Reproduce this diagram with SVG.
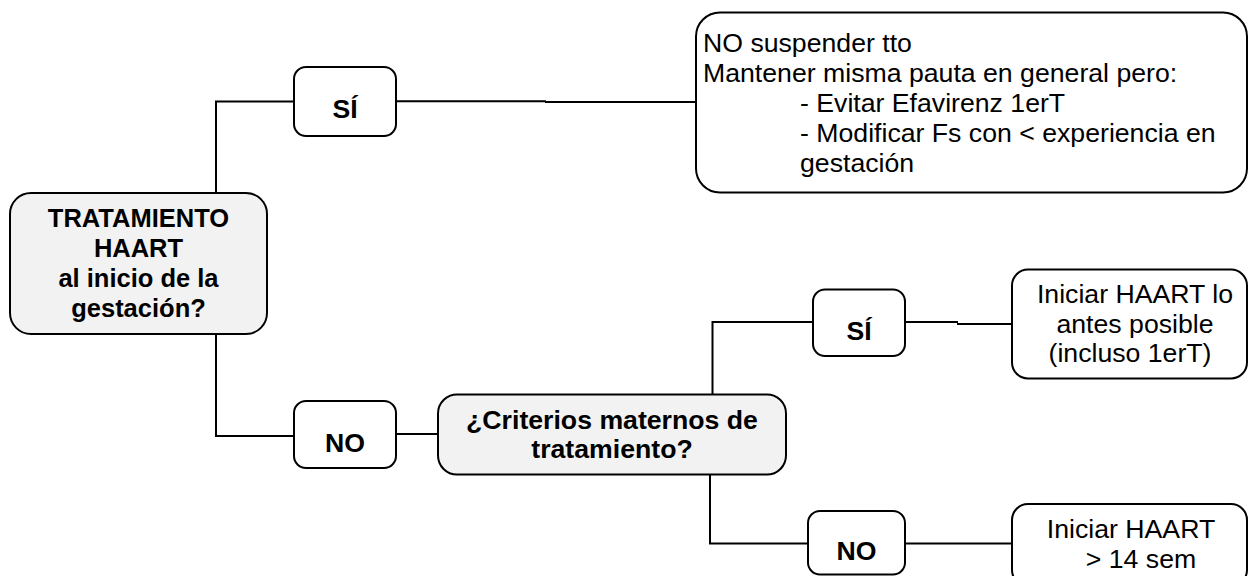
<svg xmlns="http://www.w3.org/2000/svg" width="1249" height="576" viewBox="0 0 1249 576">
<style>
.box{fill:#ffffff;stroke:#000;stroke-width:2}
.q{fill:#f2f2f2;stroke:#000;stroke-width:2}
.b{font-family:"Liberation Sans",Arial,sans-serif;font-weight:bold;font-size:26.67px;fill:#000;text-anchor:middle}
.bm{font-family:"Liberation Sans",Arial,sans-serif;font-weight:bold;font-size:25.5px;fill:#000;text-anchor:middle}
.r{font-family:"Liberation Sans",Arial,sans-serif;font-size:26.67px;fill:#000}
.rc{font-family:"Liberation Sans",Arial,sans-serif;font-size:26.67px;fill:#000;text-anchor:middle}
.ln{fill:none;stroke:#000;stroke-width:2}
</style>
<rect width="1249" height="576" fill="#fff"/>
<g id="connectors">
<path class="ln" d="M216,193 V101.5 H294"/>
<path class="ln" d="M396,101.3 H546 M545,102 H696"/>
<path class="ln" d="M216,334 V436 H294"/>
<path class="ln" d="M396,434 H438"/>
<path class="ln" d="M712.5,395 V322 H813"/>
<path class="ln" d="M905,322 H958 M957,324 H1012"/>
<path class="ln" d="M710,474 V543.5 H808"/>
<path class="ln" d="M905,543.5 H1012"/>
</g>
<g id="main">
<rect class="q" x="10" y="193" width="257" height="141" rx="21"/>
<text class="bm" x="138.5" y="227">TRATAMIENTO</text>
<text class="bm" x="138.5" y="257">HAART</text>
<text class="bm" x="138.5" y="287">al inicio de la</text>
<text class="bm" x="138.5" y="317">gestación?</text>
</g>
<g id="si1">
<rect class="box" x="294" y="67" width="102" height="69" rx="12"/>
<text class="b" x="345" y="118">SÍ</text>
</g>
<g id="mantener">
<rect class="box" x="696" y="12.5" width="551" height="180" rx="24"/>
<text class="r" x="703" y="52">NO suspender tto</text>
<text class="r" x="703" y="82">Mantener misma pauta en general pero:</text>
<text class="r" x="800" y="112">- Evitar Efavirenz 1erT</text>
<text class="r" x="800" y="142">- Modificar Fs con &lt; experiencia en</text>
<text class="r" x="800" y="172">gestación</text>
</g>
<g id="no1">
<rect class="box" x="294" y="401" width="102" height="67" rx="12"/>
<text class="b" x="345" y="452">NO</text>
</g>
<g id="criterios">
<rect class="q" x="438" y="394.5" width="348" height="80" rx="19"/>
<text class="b" x="612" y="429">¿Criterios maternos de</text>
<text class="b" x="612" y="458">tratamiento?</text>
</g>
<g id="si2">
<rect class="box" x="813" y="289.5" width="92" height="66.5" rx="12"/>
<text class="b" x="859" y="340">SÍ</text>
</g>
<g id="iniciar1">
<rect class="box" x="1012" y="269.5" width="235" height="109" rx="16"/>
<text class="rc" x="1135" y="303">Iniciar HAART lo</text>
<text class="rc" x="1135" y="333">antes posible</text>
<text class="rc" x="1130" y="362">(incluso 1erT)</text>
</g>
<g id="no2">
<rect class="box" x="808" y="511" width="97" height="63.5" rx="12"/>
<text class="b" x="856.5" y="560">NO</text>
</g>
<g id="iniciar2">
<rect class="box" x="1012" y="504" width="235" height="82" rx="16"/>
<text class="rc" x="1131" y="538">Iniciar HAART</text>
<text class="rc" x="1141" y="568">&gt; 14 sem</text>
</g>
</svg>
